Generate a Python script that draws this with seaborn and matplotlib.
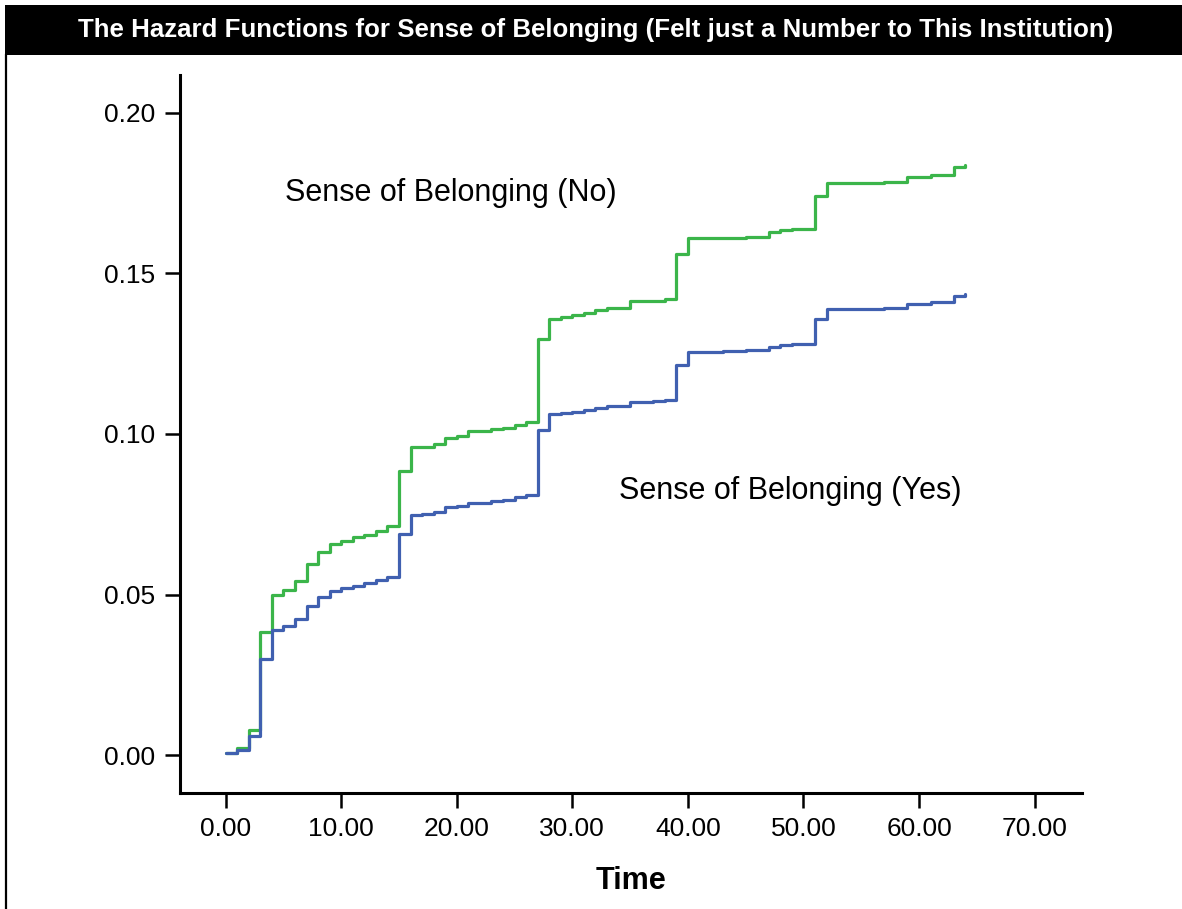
import matplotlib
matplotlib.use("Agg")
import matplotlib.pyplot as plt
import seaborn as sns
import pandas as pd
from matplotlib import font_manager
from matplotlib.patches import Rectangle
from matplotlib.lines import Line2D

# ---- data ----
time_no = [0, 1, 2, 3, 4, 5, 6, 7, 8, 9, 10, 11, 12, 13, 14, 15, 16, 17, 18, 19, 20, 21,
           23, 24, 25, 26, 27, 28, 29, 30, 31, 32, 33, 35, 37, 38, 39, 40, 43, 45, 47, 48,
           49, 51, 52, 57, 59, 61, 63, 64]
hazard_no = [0.0008, 0.0022, 0.0077, 0.0382, 0.0500, 0.0513, 0.0542, 0.0596, 0.0633, 0.0656,
             0.0666, 0.0679, 0.0686, 0.0698, 0.0712, 0.0886, 0.0958, 0.0961, 0.0969, 0.0988,
             0.0995, 0.1008, 0.1017, 0.1020, 0.1029, 0.1038, 0.1295, 0.1359, 0.1364, 0.1370,
             0.1378, 0.1386, 0.1393, 0.1413, 0.1415, 0.1419, 0.1559, 0.1609, 0.1611, 0.1614,
             0.1629, 0.1634, 0.1638, 0.1740, 0.1783, 0.1786, 0.1800, 0.1807, 0.1831, 0.1838]

time_yes = [0, 1, 2, 3, 4, 5, 6, 7, 8, 9, 10, 11, 12, 13, 14, 15, 16, 17, 18, 19, 20, 21,
            23, 24, 25, 26, 27, 28, 29, 30, 31, 32, 33, 35, 37, 38, 39, 40, 43, 45, 47, 48,
            49, 51, 52, 57, 59, 61, 63, 64]
hazard_yes = [0.0008, 0.0017, 0.0060, 0.0299, 0.0389, 0.0402, 0.0423, 0.0465, 0.0491, 0.0511,
              0.0519, 0.0527, 0.0536, 0.0544, 0.0555, 0.0689, 0.0748, 0.0751, 0.0757, 0.0772,
              0.0777, 0.0785, 0.0791, 0.0796, 0.0803, 0.0811, 0.1011, 0.1061, 0.1065, 0.1070,
              0.1075, 0.1081, 0.1086, 0.1101, 0.1103, 0.1106, 0.1215, 0.1256, 0.1259, 0.1262,
              0.1272, 0.1277, 0.1279, 0.1359, 0.1390, 0.1393, 0.1405, 0.1411, 0.1429, 0.1437]

x_ticks = [0, 10, 20, 30, 40, 50, 60, 70]
y_ticks = [0.00, 0.05, 0.10, 0.15, 0.20]

title = "The Hazard Functions for Sense of Belonging (Felt just a Number to This Institution)"
label_no = "Sense of Belonging (No)"
label_yes = "Sense of Belonging (Yes)"

# ---- style ----
sns.set_style("white")
available = {f.name for f in font_manager.fontManager.ttflist}
plt.rcParams['font.family'] = ['Liberation Sans', 'DejaVu Sans']
plt.rcParams['text.color'] = 'black'
plt.rcParams['axes.labelcolor'] = 'black'
title_font = 'Liberation Sans Narrow' if 'Liberation Sans Narrow' in available else 'Liberation Sans'

green = '#3BB54A'
blue = '#4060B0'

df = pd.concat([
    pd.DataFrame({'Time': time_no, 'Hazard': hazard_no, 'Group': 'No'}),
    pd.DataFrame({'Time': time_yes, 'Hazard': hazard_yes, 'Group': 'Yes'}),
])

W, H = 1182, 909
fig = plt.figure(figsize=(W / 100, H / 100), dpi=100)
fig.patch.set_facecolor('white')

ax = fig.add_axes([180 / W, 1 - 793 / H, (1082 - 180) / W, (793 - 75) / H])

sns.lineplot(data=df, x='Time', y='Hazard', hue='Group', palette={'No': green, 'Yes': blue},
             estimator=None, drawstyle='steps-post', linewidth=2.3, legend=False, ax=ax,
             sort=True)

ax.set_xlim(-3.95, 74.1)
ax.set_ylim(-0.0118, 0.2118)
ax.set_xticks(x_ticks)
ax.set_xticklabels([f"{v:.2f}" for v in x_ticks])
ax.set_yticks(y_ticks)
ax.set_yticklabels([f"{v:.2f}" for v in y_ticks])
ax.tick_params(axis='both', which='major', direction='out', length=11, width=1.8,
               labelsize=19, color='black', labelcolor='black', left=True, bottom=True)
ax.tick_params(axis='y', pad=7)
ax.tick_params(axis='x', pad=6)
for side in ['top', 'right']:
    ax.spines[side].set_visible(False)
for side in ['left', 'bottom']:
    ax.spines[side].set_color('black')
    ax.spines[side].set_linewidth(2.2)
ax.set_xlabel('Time', fontsize=22, fontweight='bold', labelpad=18, color='black')
ax.set_ylabel('')
ax.grid(False)

ax.text(5.1, 0.1750, label_no, fontsize=22, ha='left', va='center', color='black')
ax.text(34.0, 0.0823, label_yes, fontsize=22, ha='left', va='center', color='black')

# title bar
fig.patches.append(Rectangle((5 / W, 1 - 55 / H), 1 - 5 / W, 50 / H, transform=fig.transFigure,
                             facecolor='black', edgecolor='none', zorder=0))
fig.lines.append(Line2D([6 / W, 6 / W], [0, 1 - 54 / H], transform=fig.transFigure,
                        color='black', linewidth=1.6))
fig.text(596 / W, 1 - 30 / H, title, color='white', fontsize=18.6, fontweight='bold',
         family=[title_font, 'DejaVu Sans'], ha='center', va='center')

fig.savefig('out.png', dpi=100, facecolor='white')
